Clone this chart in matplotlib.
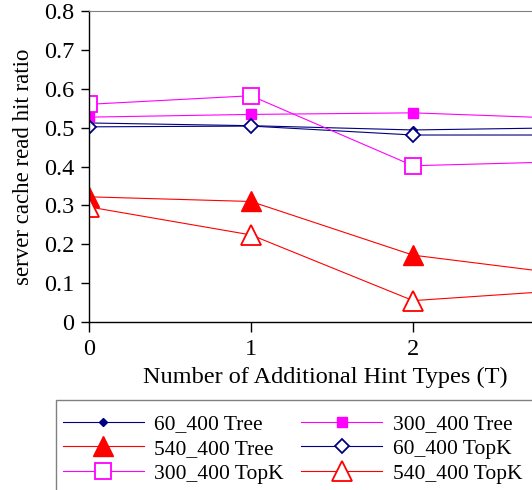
import matplotlib
matplotlib.use("Agg")
import matplotlib.pyplot as plt
from matplotlib.patches import Rectangle

# values
hint_types = [0, 1, 2, 3]
tree_60_400 = [0.512, 0.505, 0.494, 0.500]
tree_300_400 = [0.527, 0.534, 0.538, 0.523]
tree_540_400 = [0.322, 0.310, 0.172, 0.120]
topk_60_400 = [0.502, 0.504, 0.481, 0.481]
topk_300_400 = [0.560, 0.582, 0.402, 0.413]
topk_540_400 = [0.296, 0.224, 0.055, 0.083]

y_ticks = [0, 0.1, 0.2, 0.3, 0.4, 0.5, 0.6, 0.7, 0.8]
x_ticks = [0, 1, 2]

plt.rcParams['font.family'] = ['Liberation Serif', 'DejaVu Serif']

NAVY = '#000080'
MAGENTA = '#FF00FF'
RED = '#FF0000'

W, H = 532, 490
fig = plt.figure(figsize=(W / 100, H / 100), dpi=100)
# axes run past the right edge of the picture, as in the original
ax = fig.add_axes([89 / W, 168 / H, 486 / W, 311 / H])

lw = 0.8
h_60t, = ax.plot(hint_types, tree_60_400, color=NAVY, lw=lw, marker='D', ms=4.5,
                 mfc=NAVY, mec=NAVY, label='60_400 Tree')
h_300t, = ax.plot(hint_types, tree_300_400, color=MAGENTA, lw=lw, marker='s', ms=7.5,
                  mfc=MAGENTA, mec=MAGENTA, label='300_400 Tree')
h_540t, = ax.plot(hint_types, tree_540_400, color=RED, lw=lw, marker='^', ms=14,
                  mfc=RED, mec=RED, label='540_400 Tree')
h_60k, = ax.plot(hint_types, topk_60_400, color=NAVY, lw=lw, marker='D', ms=7,
                 mfc='white', mec=NAVY, mew=1.3, label='60_400 TopK')
h_300k, = ax.plot(hint_types, topk_300_400, color=MAGENTA, lw=lw, marker='s', ms=11,
                  mfc='white', mec=MAGENTA, mew=1.3, label='300_400 TopK')
h_540k, = ax.plot(hint_types, topk_540_400, color=RED, lw=lw, marker='^', ms=14,
                  mfc='white', mec=RED, mew=1.3, label='540_400 TopK')

ax.set_xlim(0, 3)
ax.set_ylim(0, 0.8)
ax.set_xticks(x_ticks)
ax.set_yticks(y_ticks)
ax.set_yticklabels(['0' if v == 0 else f'{v:.1f}' for v in y_ticks])
ax.tick_params(axis='both', direction='out', labelsize=17.5, color='black', width=1)
ax.tick_params(axis='y', length=6, pad=4.5)
ax.tick_params(axis='x', length=7, pad=5)

for side in ['left', 'bottom']:
    ax.spines[side].set_color('black')
    ax.spines[side].set_linewidth(1)
ax.spines['top'].set_color('#808080')
ax.spines['right'].set_color('#808080')

ax.set_ylabel('server cache read hit ratio', fontsize=16.5)
ax.yaxis.set_label_coords(-(89 - 34) / 486, 0.5)
ax.set_xlabel('Number of Additional Hint Types (T)', fontsize=17.5)
ax.xaxis.set_label_coords((325 - 89) / 486, -0.145)

# legend box, cut off at the right and bottom like the original
fig.patches.append(Rectangle((56 / W, -0.1), 1.0, 0.1 + (H - 400) / H,
                             transform=fig.transFigure, fill=False,
                             edgecolor='#808080', linewidth=1))

# legend reads row by row in the original, matplotlib fills columns
handles = [h_60t, h_540t, h_300k, h_300t, h_60k, h_540k]
leg = fig.legend(handles=handles, labels=[h.get_label() for h in handles],
                 ncol=2, loc='upper left', bbox_to_anchor=(63 / W, 1 - 414 / H),
                 fontsize=15.5, frameon=False, borderaxespad=0, borderpad=0,
                 handlelength=3.75, handletextpad=0.5, columnspacing=0.8,
                 labelspacing=0.22)

fig.savefig('out.png', dpi=100)
